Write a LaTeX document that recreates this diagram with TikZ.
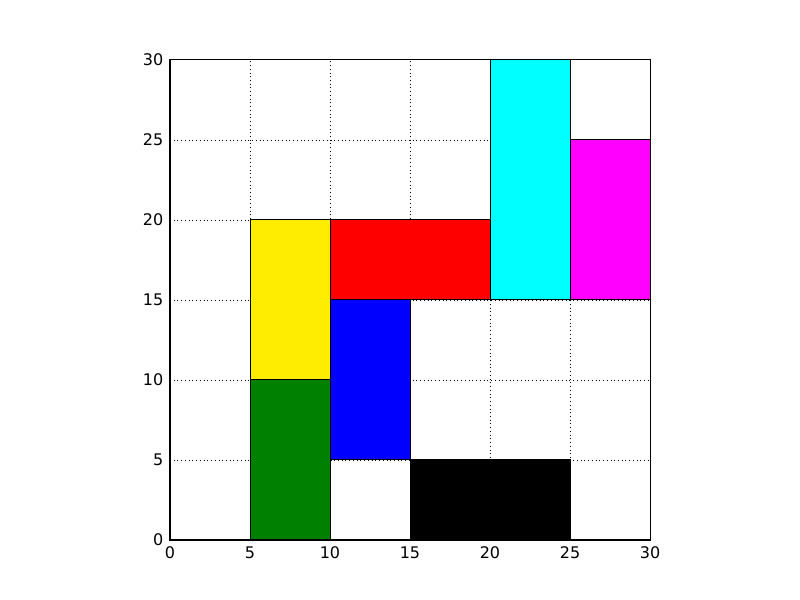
\documentclass[tikz,border=0pt]{standalone}
\usepackage{fontspec}
\setmainfont{DejaVu Sans}
\definecolor{myyellow}{RGB}{255,237,0}
\definecolor{mygreen}{RGB}{0,128,0}
\definecolor{mycyan}{RGB}{0,255,255}
\definecolor{mymagenta}{RGB}{255,0,255}
\begin{document}
\begin{tikzpicture}[x=12pt,y=12pt,
  patch/.style={draw=black,line width=0.75pt},
  gridline/.style={black,line width=0.45pt,dash pattern=on 0.6pt off 2.2pt},
  ticklab/.style={font=\fontsize{12pt}{14pt}\selectfont,inner sep=0pt}]
\useasboundingbox (-10.625,-3.75) rectangle (39.375,33.75);
\fill[white] (-10.625,-3.75) rectangle (39.375,33.75);
% grid
\foreach \v in {5,10,15,20,25} {
  \draw[gridline] (\v,0) -- (\v,30);
  \draw[gridline] (0,\v) -- (30,\v);
}
% patches
\filldraw[patch,fill=mygreen] (5,0) rectangle (10,10);
\filldraw[patch,fill=myyellow] (5,10) rectangle (10,20);
\filldraw[patch,fill=blue] (10,5) rectangle (15,15);
\filldraw[patch,fill=red] (10,15) rectangle (20,20);
\filldraw[patch,fill=mycyan] (20,15) rectangle (25,30);
\filldraw[patch,fill=mymagenta] (25,15) rectangle (30,25);
\filldraw[patch,fill=black] (15,0) rectangle (25,5);
% frame
\draw[line width=0.75pt] (0,0) rectangle (30,30);
% tick labels
\foreach \v in {0,5,10,15,20,25,30} {
  \node[ticklab,anchor=north] (xl\v) at (\v,-0.4) {\v};
  \node[ticklab,anchor=east] (yl\v) at (-0.4,\v) {\v};
}
\end{tikzpicture}
\end{document}
